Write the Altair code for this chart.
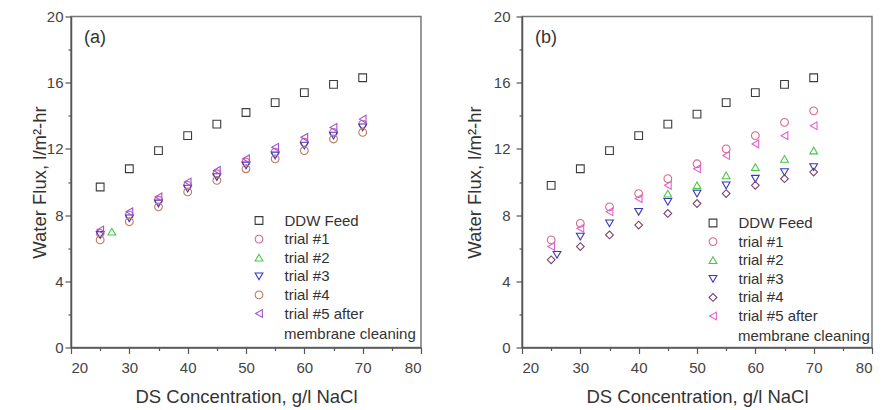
import altair as alt
import pandas as pd

# ---------------- data ----------------
conc = [25, 30, 35, 40, 45, 50, 55, 60, 65, 70]
names = ["DDW Feed", "trial #1", "trial #2", "trial #3", "trial #4",
         "trial #5 after membrane cleaning"]

# panel (a)
a_ddw = [9.7, 10.8, 11.9, 12.8, 13.5, 14.2, 14.8, 15.4, 15.9, 16.3]
a_t1 = [6.9, 8.0, 8.9, 9.8, 10.5, 11.2, 11.8, 12.4, 13.0, 13.5]
a_t2_x = [27]
a_t2 = [7.0]
a_t3 = [6.8, 7.8, 8.7, 9.6, 10.3, 11.0, 11.6, 12.2, 12.8, 13.3]
a_t4 = [6.5, 7.6, 8.5, 9.4, 10.1, 10.8, 11.4, 11.9, 12.6, 13.0]
a_t5 = [7.1, 8.2, 9.1, 10.0, 10.7, 11.4, 12.1, 12.7, 13.3, 13.8]

# panel (b)
b_ddw = [9.8, 10.8, 11.9, 12.8, 13.5, 14.1, 14.8, 15.4, 15.9, 16.3]
b_t1 = [6.5, 7.5, 8.5, 9.3, 10.2, 11.1, 12.0, 12.8, 13.6, 14.3]
b_t2_x = [45, 50, 55, 60, 65, 70]
b_t2 = [9.3, 9.8, 10.4, 10.9, 11.4, 11.9]
b_t3_x = [26, 30, 35, 40, 45, 50, 55, 60, 65, 70]
b_t3 = [5.6, 6.7, 7.5, 8.2, 8.8, 9.3, 9.8, 10.2, 10.6, 10.9]
b_t4 = [5.3, 6.1, 6.8, 7.4, 8.1, 8.7, 9.3, 9.8, 10.2, 10.6]
b_t5 = [6.1, 7.2, 8.2, 9.0, 9.8, 10.8, 11.6, 12.3, 12.8, 13.4]

a_colors = ["#3c3c3c", "#e0609a", "#48c848", "#3838b8", "#c07a5a", "#a050d0"]
b_colors = ["#3c3c3c", "#d86a8a", "#48c848", "#3838b8", "#7a4068", "#e060d0"]
a_shapes = ["square", "circle", "triangle-up", "triangle-down", "circle", "triangle-left"]
b_shapes = ["square", "circle", "triangle-up", "triangle-down", "diamond", "triangle-left"]

FONT = "Liberation Sans"


def frame(series_list):
    rows = []
    for name, xs, ys in series_list:
        for x, y in zip(xs, ys):
            rows.append({"series": name, "conc": x, "flux": y})
    return pd.DataFrame(rows)


df_a = frame([
    (names[0], conc, a_ddw), (names[1], conc, a_t1), (names[2], a_t2_x, a_t2),
    (names[3], conc, a_t3), (names[4], conc, a_t4), (names[5], conc, a_t5),
])
df_b = frame([
    (names[0], conc, b_ddw), (names[1], conc, b_t1), (names[2], b_t2_x, b_t2),
    (names[3], b_t3_x, b_t3), (names[4], conc, b_t4), (names[5], conc, b_t5),
])


def panel(df, colors, shapes, tag, legx, legy, extra_y, title_pad, label_pad):
    legend = alt.Legend(
        orient="none", legendX=legx, legendY=legy, title=None, padding=0,
        labelFont=FONT, labelFontSize=15, labelColor="#333",
        symbolSize=60, symbolStrokeWidth=1.1, rowPadding=2.6, labelOffset=18,
        labelExpr="datum.label == 'trial #5 after membrane cleaning' ? 'trial #5 after' : datum.label",
    )
    x_axis = alt.Axis(
        values=list(range(20, 81, 5)),
        labelExpr="datum.value % 10 === 0 ? datum.label : ''",
        tickSize={"condition": {"test": "datum.value % 10 === 0", "value": 6}, "value": 3},
        title="DS Concentration, g/l NaCl", grid=False, labelPadding=7, titlePadding=12,
    )
    y_axis = alt.Axis(
        values=list(range(0, 21, 2)),
        labelExpr="datum.value % 4 === 0 ? datum.label : ''",
        tickSize={"condition": {"test": "datum.value % 4 === 0", "value": 6}, "value": 3},
        title="Water Flux, l/m²-hr", grid=False, labelPadding=label_pad, titlePadding=title_pad,
    )
    pts = alt.Chart(df).mark_point(filled=False, size=60, strokeWidth=1.1, opacity=1).encode(
        x=alt.X("conc:Q", scale=alt.Scale(domain=[20, 80], nice=False, zero=False), axis=x_axis),
        y=alt.Y("flux:Q", scale=alt.Scale(domain=[0, 20], nice=False), axis=y_axis),
        color=alt.Color("series:N", scale=alt.Scale(domain=names, range=colors), legend=legend),
        shape=alt.Shape("series:N", scale=alt.Scale(domain=names, range=shapes), legend=legend),
    )
    lab = alt.Chart(pd.DataFrame({"t": [tag]})).mark_text(
        font=FONT, fontSize=18, color="#333", align="center", baseline="middle"
    ).encode(x=alt.value(24), y=alt.value(21), text="t:N")
    extra = alt.Chart(pd.DataFrame({"t": ["membrane cleaning"]})).mark_text(
        font=FONT, fontSize=15, color="#333", align="left", baseline="middle"
    ).encode(x=alt.value(legx + 32.5), y=alt.value(extra_y), text="t:N")
    return alt.layer(pts, lab, extra).properties(width=350, height=331)


pa = panel(df_a, a_colors, a_shapes, "(a)", 180.5, 196.5, 317, -3, 2)
pb = panel(df_b, b_colors, b_shapes, "(b)", 183.5, 199, 319, 9, 6)

chart = alt.hconcat(pa, pb, spacing=41).resolve_scale(
    color="independent", shape="independent"
).resolve_legend(color="independent", shape="independent").properties(
    padding={"left": 29, "top": 8.5, "right": 2, "bottom": 2}
).configure_view(
    stroke="#777", strokeWidth=1.5
).configure_axis(
    labelFont=FONT, labelFontSize=15, labelColor="#444",
    titleFont=FONT, titleFontSize=18.5, titleColor="#333", titleFontWeight="normal",
    domainColor="#555", domainWidth=1.5, tickColor="#555", tickWidth=1.2,
    labelOverlap=False,
)

chart.save("out.html", embed_options={"renderer": "svg", "actions": False})
